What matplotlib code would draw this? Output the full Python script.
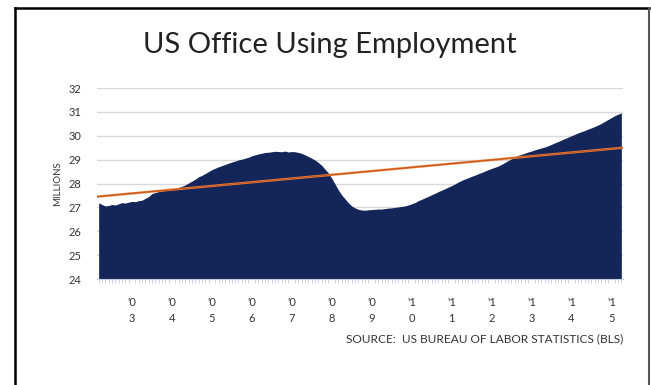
import matplotlib
matplotlib.use("Agg")
import matplotlib.pyplot as plt
from matplotlib.lines import Line2D
import numpy as np

plt.rcParams['font.family'] = ['Lato', 'DejaVu Sans']

# monthly office-using employment, millions (Mar 2002 .. Apr 2015)
employment = [
    27.19, 27.12, 27.06, 27.08, 27.12, 27.10, 27.15, 27.20, 27.18, 27.22, 27.25, 27.24,
    27.28, 27.30, 27.38, 27.45, 27.58, 27.62, 27.66, 27.70, 27.72, 27.74, 27.77, 27.80,
    27.84, 27.88, 27.94, 28.02, 28.10, 28.18, 28.28, 28.34, 28.42, 28.50, 28.58, 28.64,
    28.70, 28.75, 28.80, 28.85, 28.90, 28.94, 28.99, 29.02, 29.06, 29.10, 29.16, 29.20,
    29.24, 29.27, 29.30, 29.31, 29.33, 29.35, 29.34, 29.33, 29.36, 29.32, 29.34, 29.33,
    29.30, 29.26, 29.20, 29.13, 29.06, 28.98, 28.88, 28.76, 28.60, 28.44, 28.22, 27.98,
    27.73, 27.52, 27.36, 27.19, 27.06, 26.98, 26.92, 26.89, 26.88, 26.90, 26.91, 26.92,
    26.93, 26.93, 26.95, 26.97, 26.98, 27.00, 27.02, 27.04, 27.06, 27.10, 27.15, 27.20,
    27.28, 27.34, 27.40, 27.46, 27.53, 27.59, 27.66, 27.72, 27.78, 27.85, 27.91, 27.98,
    28.06, 28.13, 28.19, 28.24, 28.30, 28.35, 28.41, 28.46, 28.52, 28.58, 28.63, 28.68,
    28.73, 28.80, 28.88, 28.96, 29.04, 29.12, 29.18, 29.22, 29.27, 29.32, 29.36, 29.41,
    29.45, 29.49, 29.53, 29.58, 29.64, 29.70, 29.76, 29.82, 29.88, 29.94, 30.00, 30.06,
    30.12, 30.17, 30.22, 30.28, 30.33, 30.39, 30.45, 30.52, 30.60, 30.68, 30.76, 30.84,
    30.90, 30.96,
]
trend_ends = [27.45, 29.50]
year_labels = ["'0\n3", "'0\n4", "'0\n5", "'0\n6", "'0\n7", "'0\n8", "'0\n9",
               "'1\n0", "'1\n1", "'1\n2", "'1\n3", "'1\n4", "'1\n5"]
first_jan = 10  # index of Jan 2003

n = len(employment)
x = np.arange(n)

fig = plt.figure(figsize=(6.51, 3.85), dpi=100)
ax = fig.add_axes([0.149, 0.2753, 0.808, 0.4961])

ax.set_axisbelow(True)
ax.yaxis.grid(True, color='#d9d9d9', linewidth=1)
ax.fill_between(x, 24, employment, color='#142659', linewidth=0)
ax.plot([x[0] - 0.5, x[-1] + 0.5], trend_ends, color='#ee7a30', linewidth=1.7)
ax.plot([x[0] - 0.5, x[-1] + 0.5], trend_ends, color='#b04a1e', linewidth=0.5)

ax.set_xlim(-0.5, n - 0.5)
ax.set_ylim(24, 32)
ax.set_yticks(range(24, 33))
ax.tick_params(axis='y', length=0, labelsize=8, pad=11, labelcolor='#333333')

for s in ['top', 'right', 'left']:
    ax.spines[s].set_visible(False)
ax.spines['bottom'].set_color('#c6cce0')

ax.set_xticks(x, minor=True)
ax.set_xticks([first_jan + 12 * k for k in range(len(year_labels))])
ax.set_xticklabels(year_labels)
ax.tick_params(axis='x', which='major', length=0, labelsize=8, pad=13,
               labelcolor='#333333')
ax.tick_params(axis='x', which='minor', length=3, width=0.6, color='#c6cce0')
for t in ax.get_xticklabels():
    t.set_linespacing(1.5)

ax.set_ylabel('MILLIONS', fontsize=7, color='#333333', labelpad=5)

fig.text(0.507, 0.882, 'US Office Using Employment', ha='center', va='center',
         fontsize=21, color='#222222')
fig.text(0.957, 0.12, 'SOURCE:  US BUREAU OF LABOR STATISTICS (BLS)', ha='right',
         va='center', fontsize=8.6, color='#333333')

# slide frame
fig.add_artist(Line2D([15 / 651, 15 / 651], [0, 1 - 8 / 385], transform=fig.transFigure,
                      color='black', linewidth=1.8))
fig.add_artist(Line2D([15 / 651, 649 / 651], [1 - 8 / 385, 1 - 8 / 385],
                      transform=fig.transFigure, color='black', linewidth=1.8))
fig.add_artist(Line2D([649 / 651, 649 / 651], [0, 1 - 8 / 385], transform=fig.transFigure,
                      color='#555555', linewidth=1.5))

fig.savefig('out.png', dpi=100)
